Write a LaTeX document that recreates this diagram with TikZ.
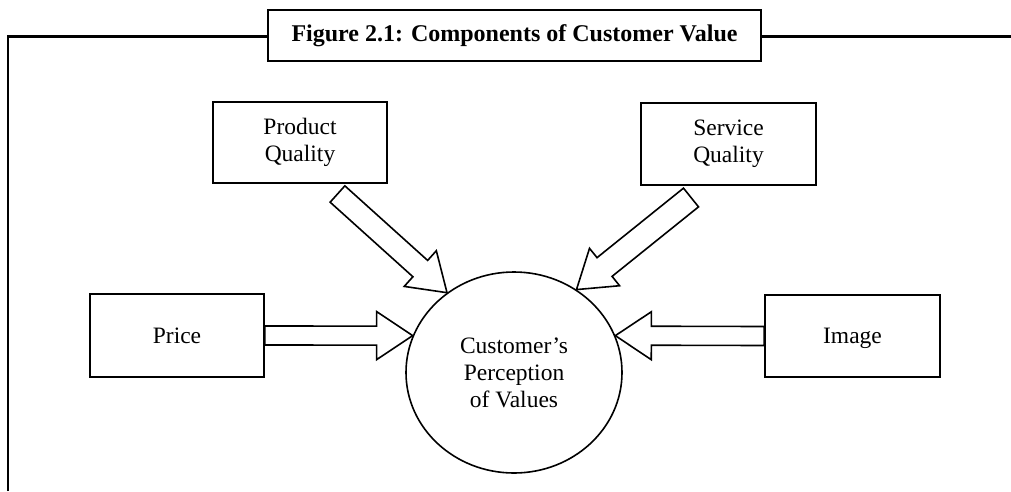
\documentclass[tikz,border=0pt]{standalone}
\usepackage{fontspec}
\setmainfont{Liberation Serif}
\usetikzlibrary{shapes.geometric,calc}
\tikzset{
  box/.style={draw, line width=1.6pt, inner sep=0pt, align=center, font=\fontsize{23.5}{27}\selectfont},
  onel/.style={text height=17pt, text depth=1.5pt},
  framel/.style={line width=2.6pt},
  blockarrow/.style={line width=1.6pt, line join=miter, to path={
    let \p1=(\tikztostart), \p2=(\tikztotarget),
        \n1={atan2(\y2-\y1,\x2-\x1)},
        \n2={veclen(\x2-\x1,\y2-\y1)-36} in
    ($(\p1)+(\n1+90:#1 pt)$) -- ($(\p1)+(\n1:\n2)+(\n1+90:#1 pt)$)
    -- ($(\p1)+(\n1:\n2)+(\n1+90:24pt)$) -- (\p2)
    -- ($(\p1)+(\n1:\n2)+(\n1-90:24pt)$)
    -- ($(\p1)+(\n1:\n2)+(\n1-90:#1 pt)$)
    -- ($(\p1)+(\n1-90:#1 pt)$) -- cycle}},
  blockarrow/.default=9.5
}
\begin{document}
\begin{tikzpicture}[x=1pt,y=-1pt]
\useasboundingbox (0,0) rectangle (1011,491);
% frame and title
\node[draw, line width=2.6pt, minimum width=493pt, minimum height=51pt, inner sep=0pt,
  font=\fontsize{24}{27}\selectfont\bfseries] (title) at (514.5,35.5) {Figure 2.1: Components of Customer Value};
\coordinate (fbl) at (8,491);
\coordinate (ftl) at (8,36.5);
\coordinate (ftr) at (1011,36.5);
\draw[framel] (fbl) -- (ftl) -- (ftl -| title.west);
\draw[framel] (ftr -| title.east) -- (ftr);
% boxes
\node[box, minimum width=174pt, minimum height=81pt] (pq) at (300,142.5) {Product\\Quality};
\node[box, minimum width=175pt, minimum height=82pt] (sq) at (728.5,144) {Service\\Quality};
\node[box, onel, minimum width=174pt, minimum height=83pt] (price) at (177,335.5) {Price};
\node[box, onel, minimum width=175pt, minimum height=82pt] (image) at (852.5,336) {Image};
\node[box, ellipse, minimum width=216pt, minimum height=201pt] (circ) at (514,372.5) {Customer’s\\Perception\\of Values};
% arrow tails
\coordinate (pqt) at (337.5,194);
\coordinate (sqt) at (691,197.5);
% arrows
\draw[blockarrow] (price.east) to (circ.160);
\draw[blockarrow] (image.west) to (circ.20);
\draw[blockarrow=11] (pqt) to (circ.130);
\draw[blockarrow=12] (sqt) to (circ.53);
\end{tikzpicture}
\end{document}
